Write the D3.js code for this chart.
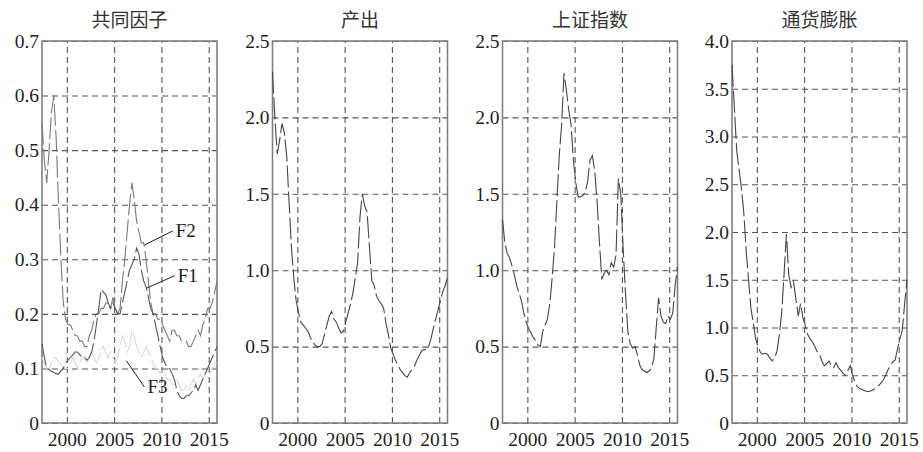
<!DOCTYPE html>
<html>
<head>
<meta charset="utf-8">
<script src="https://cdn.jsdelivr.net/npm/d3@7"></script>
<style>
  body { margin: 0; background: #fff; }
  .tick text { font-family: "Liberation Serif", "DejaVu Serif", serif; font-size: 19.5px; fill: #222; }
  .title { font-family: "Noto Sans CJK SC", sans-serif; font-size: 19px; fill: #333; }
  .ann { font-family: "Liberation Serif", serif; font-size: 19px; fill: #222; }
</style>
</head>
<body>
<svg width="923" height="452"></svg>
<script>
const svg = d3.select("svg");

// quarterly time points, 1997Q2 .. 2015Q4
const years = d3.range(75).map(i => 1997.375 + 0.25 * i);
const yearTicks = [2000, 2005, 2010, 2015];

// 共同因子
const f2 = [0.55, 0.48, 0.44, 0.50, 0.57, 0.60, 0.52, 0.40, 0.30, 0.22,
  0.19, 0.18, 0.18, 0.17, 0.16, 0.16, 0.15, 0.15, 0.14, 0.14,
  0.16, 0.17, 0.19, 0.20, 0.20, 0.21, 0.21, 0.22, 0.22, 0.21,
  0.23, 0.21, 0.20, 0.21, 0.26, 0.30, 0.35, 0.40, 0.44, 0.41,
  0.37, 0.35, 0.33, 0.33, 0.30, 0.26, 0.22, 0.20, 0.20, 0.19,
  0.19, 0.18, 0.17, 0.16, 0.15, 0.17, 0.17, 0.16, 0.16, 0.15,
  0.15, 0.15, 0.14, 0.14, 0.15, 0.16, 0.17, 0.16, 0.18, 0.19,
  0.21, 0.21, 0.22, 0.24, 0.26];
const f1 = [0.145, 0.12, 0.10, 0.098, 0.095, 0.093, 0.09, 0.09, 0.095, 0.10,
  0.11, 0.115, 0.12, 0.125, 0.13, 0.13, 0.125, 0.12, 0.12, 0.115,
  0.12, 0.13, 0.15, 0.18, 0.21, 0.245, 0.24, 0.235, 0.22, 0.21,
  0.22, 0.21, 0.20, 0.20, 0.22, 0.24, 0.26, 0.28, 0.29, 0.30,
  0.32, 0.31, 0.28, 0.26, 0.25, 0.23, 0.21, 0.20, 0.18, 0.16,
  0.14, 0.12, 0.11, 0.10, 0.10, 0.09, 0.08, 0.06, 0.05, 0.045,
  0.045, 0.05, 0.05, 0.055, 0.06, 0.07, 0.06, 0.07, 0.08, 0.09,
  0.10, 0.11, 0.12, 0.13, 0.14];
const f3 = [0.12, 0.11, 0.10, 0.10, 0.11, 0.12, 0.12, 0.11, 0.11, 0.10,
  0.10, 0.10, 0.11, 0.12, 0.11, 0.10, 0.11, 0.12, 0.12, 0.11,
  0.12, 0.13, 0.12, 0.11, 0.12, 0.13, 0.14, 0.13, 0.12, 0.13,
  0.12, 0.11, 0.12, 0.14, 0.16, 0.15, 0.13, 0.14, 0.17, 0.16,
  0.14, 0.13, 0.12, 0.13, 0.14, 0.13, 0.12, 0.11, 0.10, 0.10,
  0.09, 0.10, 0.09, 0.08, 0.08, 0.07, 0.07, 0.08, 0.07, 0.06,
  0.06, 0.07, 0.06, 0.07, 0.08, 0.07, 0.08, 0.09, 0.08, 0.09,
  0.10, 0.09, 0.10, 0.11, 0.11];

// 产出
const output = [2.30, 2.00, 1.76, 1.85, 1.96, 1.90, 1.75, 1.45, 1.15, 0.95,
  0.80, 0.72, 0.66, 0.64, 0.62, 0.60, 0.56, 0.53, 0.51, 0.50,
  0.50, 0.52, 0.58, 0.64, 0.70, 0.73, 0.68, 0.66, 0.62, 0.59,
  0.60, 0.66, 0.72, 0.78, 0.85, 0.95, 1.05, 1.35, 1.50, 1.42,
  1.38, 1.15, 0.93, 0.90, 0.83, 0.80, 0.78, 0.75, 0.65, 0.58,
  0.49, 0.45, 0.41, 0.38, 0.35, 0.33, 0.31, 0.30, 0.33, 0.35,
  0.37, 0.41, 0.44, 0.47, 0.48, 0.48, 0.50, 0.55, 0.62, 0.68,
  0.74, 0.80, 0.86, 0.90, 0.95];

// 上证指数
const shIndex = [1.33, 1.18, 1.11, 1.08, 1.03, 0.97, 0.90, 0.85, 0.80, 0.72,
  0.66, 0.62, 0.59, 0.56, 0.54, 0.51, 0.50, 0.60, 0.64, 0.68,
  0.78, 0.95, 1.15, 1.45, 1.75, 1.95, 2.29, 2.18, 2.05, 1.95,
  1.72, 1.57, 1.48, 1.48, 1.49, 1.51, 1.58, 1.72, 1.75, 1.65,
  1.45, 1.18, 0.94, 0.98, 1.00, 0.97, 1.05, 1.02, 1.10, 1.60,
  1.50, 1.15, 0.85, 0.60, 0.52, 0.49, 0.50, 0.45, 0.38, 0.35,
  0.34, 0.33, 0.34, 0.36, 0.42, 0.62, 0.82, 0.70, 0.66, 0.65,
  0.70, 0.68, 0.72, 0.90, 1.02];

// 通货膨胀
const inflation = [3.75, 3.30, 2.85, 2.65, 2.45, 2.20, 1.80, 1.50, 1.20, 1.05,
  0.88, 0.80, 0.74, 0.72, 0.73, 0.72, 0.68, 0.65, 0.68, 0.75,
  0.92, 1.15, 1.55, 1.98, 1.55, 1.42, 1.48, 1.30, 1.12, 1.25,
  1.10, 1.02, 0.93, 0.88, 0.85, 0.80, 0.75, 0.72, 0.65, 0.60,
  0.62, 0.65, 0.60, 0.58, 0.63, 0.58, 0.55, 0.52, 0.50, 0.55,
  0.60, 0.50, 0.43, 0.38, 0.36, 0.35, 0.34, 0.33, 0.33, 0.34,
  0.35, 0.37, 0.39, 0.42, 0.45, 0.50, 0.56, 0.60, 0.64, 0.66,
  0.78, 0.88, 0.97, 1.25, 1.50];

// labels for the factor lines: leader from (x0,y0) to (x1,y1), data units
const factorLabels = [
  { text: "F2", x0: 2008.2, y0: 0.326, x1: 2011.2, y1: 0.352 },
  { text: "F1", x0: 2008.4, y0: 0.247, x1: 2011.4, y1: 0.270 },
  { text: "F3", x0: 2006.3, y0: 0.114, x1: 2008.2, y1: 0.066 }
];

const panels = [
  { title: "共同因子", max: 0.7, step: 0.1, left: 42,
    series: [{ v: f3, color: "#d8d8d8" }, { v: f2, color: "#7a7a7a" }, { v: f1, color: "#555" }],
    labels: factorLabels },
  { title: "产出", max: 2.5, step: 0.5, left: 272.5, series: [{ v: output, color: "#444" }] },
  { title: "上证指数", max: 2.5, step: 0.5, left: 502.5, series: [{ v: shIndex, color: "#444" }] },
  { title: "通货膨胀", max: 4.0, step: 0.5, left: 732, series: [{ v: inflation, color: "#444" }] }
];

const plotTop = 41, plotBottom = 423, w = 175, h = plotBottom - plotTop;
const fmt = v => v === 0 ? "0" : d3.format(".1f")(v);

panels.forEach(p => {
  const g = svg.append("g").attr("transform", `translate(${p.left},${plotTop})`);

  const x = d3.scaleLinear().domain([1997.375, 2015.875]).range([0, w]);
  const y = d3.scaleLinear().domain([0, p.max]).range([h, 0]);

  // y axis with grid
  const yAxis = g.append("g")
    .call(d3.axisLeft(y)
      .tickValues(d3.range(0, p.max + 1e-9, p.step))
      .tickFormat(fmt)
      .tickSize(-w)
      .tickPadding(3));
  yAxis.select(".domain").remove();
  yAxis.selectAll("line")
    .attr("stroke", "#555")
    .attr("stroke-dasharray", "6,4")
    .attr("stroke-width", 1.1);

  // x axis with grid
  const xAxis = g.append("g")
    .attr("transform", `translate(0,${h})`)
    .call(d3.axisBottom(x)
      .tickValues(yearTicks)
      .tickFormat(d3.format("d"))
      .tickSize(-h)
      .tickPadding(9));
  xAxis.select(".domain").remove();
  xAxis.selectAll("line")
    .attr("stroke", "#555")
    .attr("stroke-dasharray", "6,4")
    .attr("stroke-width", 1.1);

  // frame
  g.append("rect")
    .attr("width", w).attr("height", h)
    .attr("fill", "none")
    .attr("stroke", "#808080")
    .attr("stroke-width", 1.6);

  // title
  svg.append("text")
    .attr("class", "title")
    .attr("x", p.left + w / 2)
    .attr("y", 27)
    .attr("text-anchor", "middle")
    .text(p.title);

  const line = d3.line()
    .x((d, i) => x(years[i]))
    .y(d => y(d));

  g.selectAll(".series")
    .data(p.series)
    .join("path")
    .attr("class", "series")
    .attr("d", s => line(s.v))
    .attr("fill", "none")
    .attr("stroke", s => s.color)
    .attr("stroke-width", 1.1)
    .attr("stroke-dasharray", "22,4");

  if (p.labels) {
    p.labels.forEach(a => {
      g.append("line")
        .attr("x1", x(a.x0)).attr("y1", y(a.y0))
        .attr("x2", x(a.x1)).attr("y2", y(a.y1))
        .attr("stroke", "#222")
        .attr("stroke-width", 1);
      g.append("text")
        .attr("class", "ann")
        .attr("x", x(a.x1) + 3)
        .attr("y", y(a.y1) + 6)
        .text(a.text);
    });
  }
});
</script>
</body>
</html>
